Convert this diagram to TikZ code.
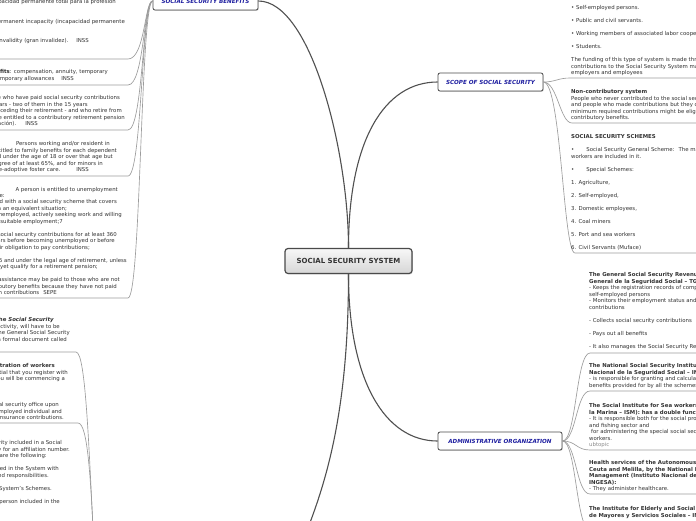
\documentclass[tikz,border=0pt]{standalone}
\usepackage{fontspec}
\setmainfont{DejaVu Sans}
\usetikzlibrary{shadows}
\definecolor{topicblue}{HTML}{1E1EA0}
\definecolor{txt}{HTML}{333333}
\definecolor{branch}{HTML}{505050}
\definecolor{sub}{HTML}{9C9C9C}
\definecolor{boxline}{HTML}{4A4A4A}
\tikzset{
  body/.style={font=\fontsize{5.4}{6.5}\selectfont, text=txt, inner sep=0pt},
  lt/.style={body, anchor=base east},
  rt/.style={body, anchor=base west},
  topic/.style={draw=boxline, line width=0.8pt, rounded corners=2pt, fill=white,
    minimum height=18pt, inner sep=0pt, text=topicblue,
    font=\fontsize{5.6}{6}\selectfont\bfseries\itshape,
    drop shadow={shadow xshift=0.7pt, shadow yshift=-0.8pt, opacity=0.35}},
  central/.style={draw=boxline, line width=1.2pt, rounded corners=3pt,
    top color=black!3, bottom color=black!16, minimum width=127pt, minimum height=25pt,
    inner sep=0pt, text=txt, font=\fontsize{7}{8}\selectfont\bfseries,
    drop shadow={shadow xshift=0.8pt, shadow yshift=-0.9pt, opacity=0.35}},
  mainline/.style={draw=branch, line width=1.1pt},
  subline/.style={draw=sub, line width=0.65pt},
}
\begin{document}
\begin{tikzpicture}[x=1pt, y=-1pt]
\useasboundingbox (0,0) rectangle (696,520);
\fill[white] (0,0) rectangle (696,520);
\begin{scope}
\clip (0,0) rectangle (696,520);

% main nodes
\node[central] (ss) at (348.5,261) {SOCIAL SECURITY SYSTEM};
\node[topic, minimum width=105pt] (ben) at (205.5,1) {SOCIAL SECURITY BENEFITS};
\node[topic, minimum width=105pt] (scope) at (490.5,82) {SCOPE OF SOCIAL SECURITY};
\node[topic, minimum width=124pt] (admin) at (500,441) {ADMINISTRATIVE ORGANIZATION};

% coordinates for child blocks
\coordinate (Ac) at (128,59);   \coordinate (Ae) at (-5,59);
\coordinate (Bc) at (128,85);   \coordinate (Be) at (-5,85);
\coordinate (Cc) at (128,130);  \coordinate (Ce) at (-5,130);
\coordinate (Dc) at (128,176);  \coordinate (De) at (-5,176);
\coordinate (Ec) at (128,298);  \coordinate (Ee) at (-5,298);
\coordinate (llp) at (95,570);
\coordinate (Fc) at (76,352);   \coordinate (Fe) at (-5,352);
\coordinate (Gc) at (78,423);   \coordinate (Ge) at (-5,423);
\coordinate (bl) at (295,560);
\coordinate (s1c) at (570,78);  \coordinate (s1e) at (700,78);
\coordinate (s2c) at (572,123); \coordinate (s2e) at (700,123);
\coordinate (s3c) at (575,253); \coordinate (s3e) at (700,253);
\coordinate (a1c) at (590,353); \coordinate (a1e) at (700,353);
\coordinate (a2c) at (590,391); \coordinate (a2e) at (700,391);
\coordinate (a3c) at (590,450); \coordinate (a3e) at (700,450);
\coordinate (a4c) at (590,494); \coordinate (a4e) at (700,494);
\coordinate (a5c) at (590,530); \coordinate (a5e) at (700,530);

% main connectors
\draw[mainline] (ss.north) .. controls +(0,-98) and +(52,0) .. (ben.east);
\draw[mainline] (ss.north) .. controls +(0,-108) and +(-53,0) .. (scope.west);
\draw[mainline] (ss.south) .. controls +(0,106) and +(-53,0) .. (admin.west);
\draw[mainline] (ss.south) .. controls +(0,156) and +(25,-60) .. (bl);

% benefits children connectors
\draw[subline] (ben.west) .. controls +(-8,0) and +(17,0) .. (Ac) -- (Ae);
\draw[subline] (ben.west) .. controls +(-9,0) and +(16,0) .. (Bc) -- (Be);
\draw[subline] (ben.west) .. controls +(-10,0) and +(15,0) .. (Cc) -- (Ce);
\draw[subline] (ben.west) .. controls +(-11,0) and +(14,0) .. (Dc) -- (De);
\draw[subline] (ben.west) .. controls +(-12,0) and +(13,0) .. (Ec) -- (Ee);
% lower-left children connectors
\draw[subline] (llp) .. controls +(-6,-120) and +(10,0) .. (Fc) -- (Fe);
\draw[subline] (llp) .. controls +(-4,-90) and +(10,0) .. (Gc) -- (Ge);
% scope children connectors
\draw[subline] (scope.east) .. controls +(12,0) and +(-12,0) .. (s1c) -- (s1e);
\draw[subline] (scope.east) .. controls +(14,0) and +(-12,0) .. (s2c) -- (s2e);
\draw[subline] (scope.east) .. controls +(18,0) and +(-12,0) .. (s3c) -- (s3e);
% admin children connectors
\draw[subline] (admin.east) .. controls +(14,0) and +(-14,0) .. (a1c) -- (a1e);
\draw[subline] (admin.east) .. controls +(14,0) and +(-14,0) .. (a2c) -- (a2e);
\draw[subline] (admin.east) .. controls +(14,0) and +(-14,0) .. (a3c) -- (a3e);
\draw[subline] (admin.east) .. controls +(14,0) and +(-14,0) .. (a4c) -- (a4e);
\draw[subline] (admin.east) .. controls +(14,0) and +(-14,0) .. (a5c) -- (a5e);

% left texts
\foreach \x/\y/\t [count=\i] in {
116/2/{incapacidad permanente total para la profesión},
125/21.5/{Absolute permanent incapacity (incapacidad permanente},
89/41/{Severe invalidity (gran invalidez).\hspace{8pt}INSS},
108/72/{\textbf{Death and survival benefits}: compensation, annuity, temporary},
74/78.5/{orphan's pension, temporary allowances\hspace{7pt}INSS},
120/98/{People who have paid social security contributions},
88/104.5/{for at least 15 years - two of them in the 15 years},
122/111/{immediately preceding their retirement - and who retire from},
125/117.5/{work are entitled to a contributory retirement pension},
38/124/{(pensión de jubilación).\hspace{9pt}INSS},
110/144/{Persons working and/or resident in},
117/150.5/{Spain are entitled to family benefits for each dependent},
113/157/{child under the age of 18 or over that age but},
103/163.5/{with a disability degree of at least 65\%, and for minors in},
89/170/{permanent or pre-adoptive foster care.\hspace{16pt}INSS},
118/189.5/{A person is entitled to unemployment},
5/196/{benefits if they are:},
117/202/{- Affiliated with a social security scheme that covers},
67/208.5/{this contingency, or in an equivalent situation;},
122/215/{- Legally unemployed, actively seeking work and willing},
63/221.5/{to accept suitable employment;7},
117/234.5/{- Have paid social security contributions for at least 360},
115/241/{days within the six years before becoming unemployed or before},
90/247.5/{the cessation of their obligation to pay contributions;},
127/260.5/{- Over 16 and under the legal age of retirement, unless},
98/267/{they do not yet qualify for a retirement pension;},
120/280/{Unemployment assistance may be paid to those who are not},
117/286.5/{entitled to contributory benefits because they have not paid},
57/293/{enough contributions\hspace{4pt}SEPE},
54/320/{\textbf{Affiliation to the \textit{Social Security}}},
60/326.5/{Anyone starting a working activity, will have to be},
70/333/{registered with the General Social Security},
67/339.5/{Scheme, through a formal document called},
55/366/{\textbf{Registration of workers}},
68/372.5/{It is essential that you register with},
65/379/{the Social Security when you will be commencing a},
59/405/{at the social security office upon},
62/411.5/{becoming a self-employed individual and},
64/418/{paying social insurance contributions.},
62/443/{A person carrying out an activity included in a Social},
70/449.5/{Security Scheme must apply for an affiliation number.},
47/456/{Its features are the following:},
59/469/{- The person is included in the System with},
49/475.5/{all its rights and responsibilities.},
52/488.5/{- It is unique for all the System's Schemes.},
60/501.5/{- It is for life for the person included in the}}
  \node[lt] (L\i) at (\x,{\y+1.6}) {\t};

% scope texts
\foreach \y/\t [count=\i] in {
8/{• Self-employed persons.},
21/{• Public and civil servants.},
34/{• Working members of associated labor cooperatives.},
47/{• Students.},
60/{The funding of this type of system is made through},
66.5/{contributions to the Social Security System made by},
73/{employers and employees},
92/{\textbf{Non-contributory system}},
98.5/{People who never contributed to the social security system},
105/{and people who made contributions but they did not reach the},
111.5/{minimum required contributions might be eligible for non-},
118/{contributory benefits.},
137/{\textbf{SOCIAL SECURITY SCHEMES}},
150/{•\hspace{12pt}Social Security General Scheme:\hspace{4pt}The majority of},
156.5/{workers are included in it.},
169.5/{•\hspace{12pt}Special Schemes:},
182.5/{1. Agriculture,},
195.5/{2. Self-employed,},
208.5/{3. Domestic employees,},
221.5/{4. Coal miners},
234.5/{5. Port and sea workers},
247.5/{6. Civil Servants (Muface)}}
  \node[rt] (S\i) at (571,{\y+1.6}) {\t};

% admin texts
\foreach \y/\t [count=\i] in {
275/{\textbf{The General Social Security Revenue Service (Tesorería}},
281.5/{\textbf{General de la Seguridad Social – TGSS):}},
288/{- Keeps the registration records of companies and},
294.5/{self-employed persons},
301/{- Monitors their employment status and},
307.5/{contributions},
320.5/{- Collects social security contributions},
333.5/{- Pays out all benefits},
346.5/{- It also manages the Social Security Reserve Fund},
366/{\textbf{The National Social Security Institute (Instituto}},
372.5/{\textbf{Nacional de la Seguridad Social – INSS):}},
379/{- is responsible for granting and calculating the},
385.5/{benefits provided for by all the schemes},
406/{\textbf{The Social Institute for Sea workers (Instituto Social de}},
412.5/{\textbf{la Marina – ISM): has a double function:}},
419/{- It is responsible both for the social protection of the sea},
425.5/{and fishing sector and},
432/{\hspace{2pt}for administering the special social security scheme for sea},
438.5/{workers.},
444.5/{\textcolor{black!45}{ubtopic}},
463/{\textbf{Health services of the Autonomous Cities of}},
469.5/{\textbf{Ceuta and Melilla, by the National Institute of Health}},
476/{\textbf{Management (Instituto Nacional de Gestión Sanitaria –}},
482.5/{\textbf{INGESA):}},
489/{- They administer healthcare.},
509/{\textbf{The Institute for Elderly and Social Services (Instituto}},
515.5/{\textbf{de Mayores y Servicios Sociales – IMSERSO)}}}
  \node[rt] (M\i) at (589,{\y+1.6}) {\t};
\end{scope}
\end{tikzpicture}
\end{document}
